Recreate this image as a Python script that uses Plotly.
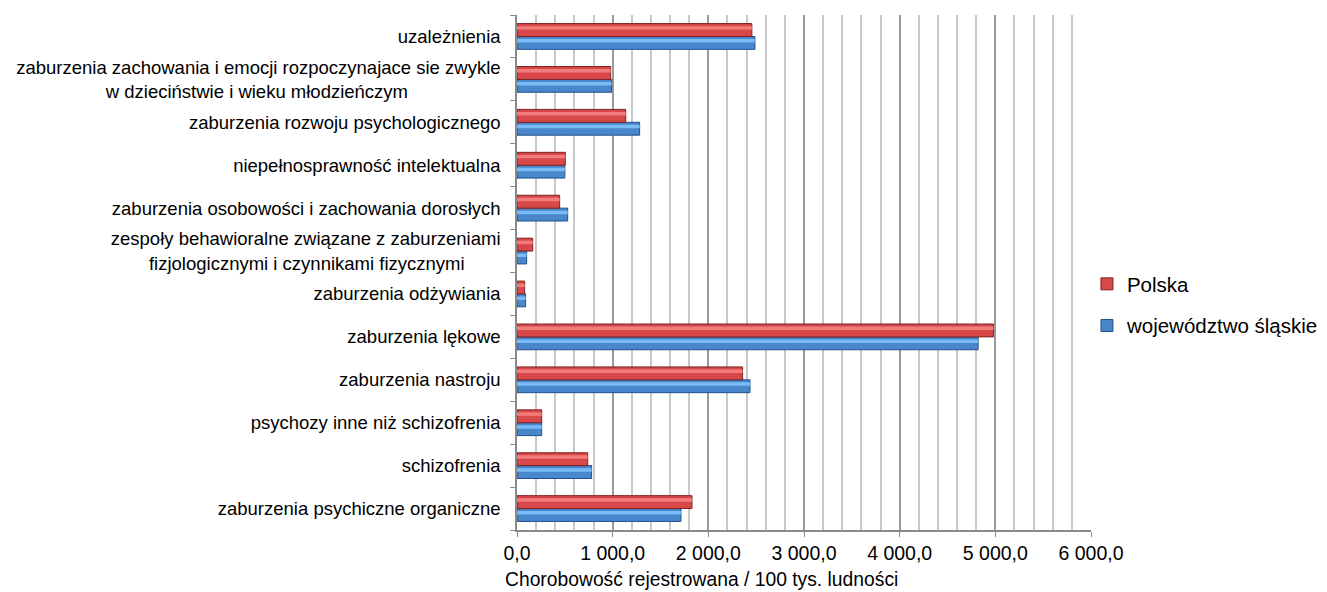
import plotly.graph_objects as go

categories = [
    "zaburzenia psychiczne organiczne",
    "schizofrenia",
    "psychozy inne niż schizofrenia",
    "zaburzenia nastroju",
    "zaburzenia lękowe",
    "zaburzenia odżywiania",
    "zespoły behawioralne związane z zaburzeniami<br>fizjologicznymi i czynnikami fizycznymi",
    "zaburzenia osobowości i zachowania dorosłych",
    "niepełnosprawność intelektualna",
    "zaburzenia rozwoju psychologicznego",
    "zaburzenia zachowania i emocji rozpoczynajace sie zwykle<br>w dzieciństwie i wieku młodzieńczym",
    "uzależnienia",
]
polska = [1829, 739, 258, 2358, 4980, 80, 164, 446, 505, 1136, 979, 2455]
slaskie = [1714, 780, 258, 2435, 4820, 90, 101, 530, 500, 1282, 989, 2487]

x_ticks = [0, 1000, 2000, 3000, 4000, 5000, 6000]

# display labels: centre second lines of wrapped labels with trailing no-break spaces
pad = {6: 7, 10: 18}
tick_text = [c + "\u00a0" * pad.get(i, 0) for i, c in enumerate(categories)]

fig = go.Figure()

# województwo śląskie (lower bar)
fig.add_trace(go.Bar(
    y=categories, x=slaskie, orientation="h", name="województwo śląskie",
    offset=-0.3, width=0.3, legendgroup="s", legendrank=2,
    marker=dict(color="#4A86CC", line=dict(color="#21508A", width=1)),
))
fig.add_trace(go.Bar(
    y=categories, x=slaskie, orientation="h", showlegend=False,
    offset=-0.14, width=0.08, hoverinfo="skip",
    marker=dict(color="#78BBF5", line=dict(width=0)),
))
# Polska (upper bar)
fig.add_trace(go.Bar(
    y=categories, x=polska, orientation="h", name="Polska",
    offset=0.0, width=0.3, legendgroup="p", legendrank=1,
    marker=dict(color="#D94848", line=dict(color="#7E2222", width=1)),
))
fig.add_trace(go.Bar(
    y=categories, x=polska, orientation="h", showlegend=False,
    offset=0.16, width=0.08, hoverinfo="skip",
    marker=dict(color="#F27C7C", line=dict(width=0)),
))

fig.add_annotation(
    text="Chorobowość rejestrowana / 100 tys. ludności",
    xref="paper", yref="paper", x=-0.0244, y=-0.097,
    xanchor="left", yanchor="middle", showarrow=False,
    font=dict(size=19.3),
)

# page body has an 8px default margin, compensate
fig.update_layout(
    width=1319, height=584,
    barmode="overlay",
    separators=", ",
    paper_bgcolor="white", plot_bgcolor="white",
    margin=dict(l=509, r=236, t=7, b=62, autoexpand=False),
    font=dict(family="Liberation Sans, Arial, sans-serif", size=18, color="#000000"),
    showlegend=True,
    legend=dict(
        xref="container", yref="container",
        x=0.818, xanchor="left", y=0.4914, yanchor="middle",
        traceorder="grouped", tracegroupgap=12,
        font=dict(size=20.5), itemwidth=30,
    ),
    xaxis=dict(
        range=[0, 6000], tickvals=x_ticks, tickformat=",.1f",
        showgrid=True, gridcolor="#9A9A9A", gridwidth=1.5,
        minor=dict(dtick=200, showgrid=True, gridcolor="#C8C8C8", gridwidth=1.5),
        ticks="outside", ticklen=5, tickcolor="#8A8A8A",
        showline=True, linecolor="#8A8A8A", linewidth=1.5,
        tickfont=dict(size=19.5), zeroline=False, automargin=False,
    ),
    yaxis=dict(
        type="category", tickson="boundaries",
        tickvals=categories, ticktext=tick_text,
        ticks="outside", ticklen=5, tickcolor="#8A8A8A",
        showline=True, linecolor="#8A8A8A", linewidth=1.5,
        showgrid=False, tickfont=dict(size=18.5), ticklabelstandoff=11,
        automargin=False,
    ),
)

fig.write_html("out.html")
